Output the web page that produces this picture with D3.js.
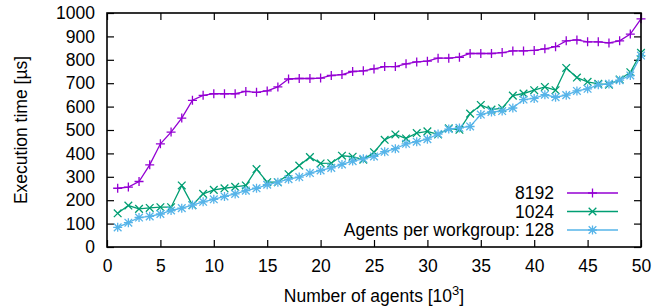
<!DOCTYPE html>
<html>
<head>
<meta charset="utf-8">
<script src="https://cdn.jsdelivr.net/npm/d3@7"></script>
<style>
  body { margin: 0; background: #fff; }
  text { font-family: "Liberation Sans", Arial, sans-serif; font-size: 17.5px; fill: #000; }
</style>
</head>
<body>
<svg id="chart" width="668" height="308"></svg>
<script>
// values, agents in thousands (1..50)
var agents = d3.range(1, 51);

var wg8192 = [251, 256, 280, 351, 441, 491, 551, 627, 648, 655,
              655, 655, 665, 661, 667, 684, 718, 720, 720, 722,
              733, 737, 750, 753, 761, 771, 771, 783, 791, 794,
              807, 807, 811, 827, 827, 827, 831, 838, 838, 840,
              847, 856, 881, 885, 877, 877, 872, 881, 910, 975];

var wg1024 = [144, 177, 163, 167, 170, 170, 263, 179, 227, 244,
              251, 257, 263, 333, 277, 277, 311, 348, 384, 357,
              358, 390, 386, 373, 405, 458, 481, 464, 487, 494,
              481, 507, 501, 570, 607, 587, 593, 647, 656, 670,
              684, 670, 765, 724, 706, 697, 694, 716, 747, 830];

var wg128 = [84, 104, 126, 131, 141, 156, 166, 179, 193, 204,
             216, 227, 241, 251, 266, 277, 290, 299, 316, 327,
             338, 353, 367, 377, 387, 407, 420, 441, 450, 461,
             483, 504, 509, 515, 566, 577, 581, 594, 630, 635,
             651, 640, 649, 667, 676, 693, 697, 713, 733, 818];

var xTicks = [0, 5, 10, 15, 20, 25, 30, 35, 40, 45, 50];
var yTicks = [0, 100, 200, 300, 400, 500, 600, 700, 800, 900, 1000];

var seriesNames = ["8192", "1024", "Agents per workgroup: 128"];
var seriesColors = ["#9400d3", "#009e73", "#56b4e9"];
var seriesMarks = ["plus", "cross", "star"];

var margin = {top: 13, right: 27, bottom: 61, left: 107};
var width = 668 - margin.left - margin.right;
var height = 308 - margin.top - margin.bottom;

var svg = d3.select("#chart");
var g = svg.append("g")
    .attr("transform", "translate(" + margin.left + "," + margin.top + ")");

var x = d3.scaleLinear().domain([0, 50]).range([0, width]);
var y = d3.scaleLinear().domain([0, 1000]).range([height, 0]);

// axes with inward ticks, mirrored on top/right like gnuplot
var tk = 7;
g.append("g").attr("transform", "translate(0," + height + ")")
    .call(d3.axisBottom(x).tickValues(xTicks).tickSizeInner(-tk).tickSizeOuter(0).tickPadding(13).tickFormat(d3.format("d")))
    .call(function(a){ a.select(".domain").remove(); });
g.append("g")
    .call(d3.axisTop(x).tickValues(xTicks).tickSizeInner(-tk).tickSizeOuter(0).tickFormat(""))
    .call(function(a){ a.select(".domain").remove(); });
g.append("g")
    .call(d3.axisLeft(y).tickValues(yTicks).tickSizeInner(-tk).tickSizeOuter(0).tickPadding(12).tickFormat(d3.format("d")))
    .call(function(a){ a.select(".domain").remove(); });
g.append("g").attr("transform", "translate(" + width + ",0)")
    .call(d3.axisRight(y).tickValues(yTicks).tickSizeInner(-tk).tickSizeOuter(0).tickFormat(""))
    .call(function(a){ a.select(".domain").remove(); });

g.selectAll(".tick line").attr("stroke", "#000").attr("stroke-width", 1.2);
g.selectAll(".tick text").style("font-size", "17.5px")
    .style("font-family", "'Liberation Sans', Arial, sans-serif").attr("fill", "#000");

// markers
function markPath(type, r) {
  var p = d3.path();
  if (type == "plus" || type == "star") {
    p.moveTo(-r, 0); p.lineTo(r, 0);
    p.moveTo(0, -r); p.lineTo(0, r);
  }
  if (type == "cross" || type == "star") {
    var d = r * 0.85;
    p.moveTo(-d, -d); p.lineTo(d, d);
    p.moveTo(-d, d); p.lineTo(d, -d);
  }
  return p.toString();
}

var line = d3.line()
    .x(function(d){ return x(d[0]); })
    .y(function(d){ return y(d[1]); });

[wg8192, wg1024, wg128].forEach(function(vals, i){
  var pts = agents.map(function(a, j){ return [a, vals[j]]; });
  g.append("path")
      .datum(pts)
      .attr("fill", "none")
      .attr("stroke", seriesColors[i])
      .attr("stroke-width", 1.3)
      .attr("d", line);
  g.append("g").selectAll("path")
      .data(pts)
      .join("path")
      .attr("transform", function(d){ return "translate(" + x(d[0]) + "," + y(d[1]) + ")"; })
      .attr("d", markPath(seriesMarks[i], 4.5))
      .attr("fill", "none")
      .attr("stroke", seriesColors[i])
      .attr("stroke-width", 1.3);
});

// border
g.append("rect")
    .attr("width", width).attr("height", height)
    .attr("fill", "none").attr("stroke", "#000").attr("stroke-width", 1.6);

// legend
var legend = g.append("g").attr("transform", "translate(" + (x(50) - 87) + "," + 180 + ")");
seriesNames.forEach(function(name, i){
  var row = legend.append("g").attr("transform", "translate(0," + (i * 18.5) + ")");
  row.append("text").attr("x", 0).attr("y", 0).attr("dy", "0.35em")
      .attr("text-anchor", "end").text(name);
  row.append("line").attr("x1", 13).attr("x2", 64).attr("y1", 0).attr("y2", 0)
      .attr("stroke", seriesColors[i]).attr("stroke-width", 1.3);
  row.append("path").attr("transform", "translate(38.5,0)")
      .attr("d", markPath(seriesMarks[i], 4.5))
      .attr("fill", "none").attr("stroke", seriesColors[i]).attr("stroke-width", 1.3);
});

// axis titles
svg.append("text")
    .attr("transform", "translate(21," + (margin.top + height / 2) + ") rotate(-90)")
    .attr("text-anchor", "middle").attr("dy", "0.35em")
    .text("Execution time [µs]");

var xt = svg.append("text")
    .attr("x", margin.left + width / 2).attr("y", 302)
    .attr("text-anchor", "middle");
xt.append("tspan").text("Number of agents [10");
xt.append("tspan").attr("dy", -7).style("font-size", "13px").text("3");
xt.append("tspan").attr("dy", 7).text("]");
</script>
</body>
</html>
